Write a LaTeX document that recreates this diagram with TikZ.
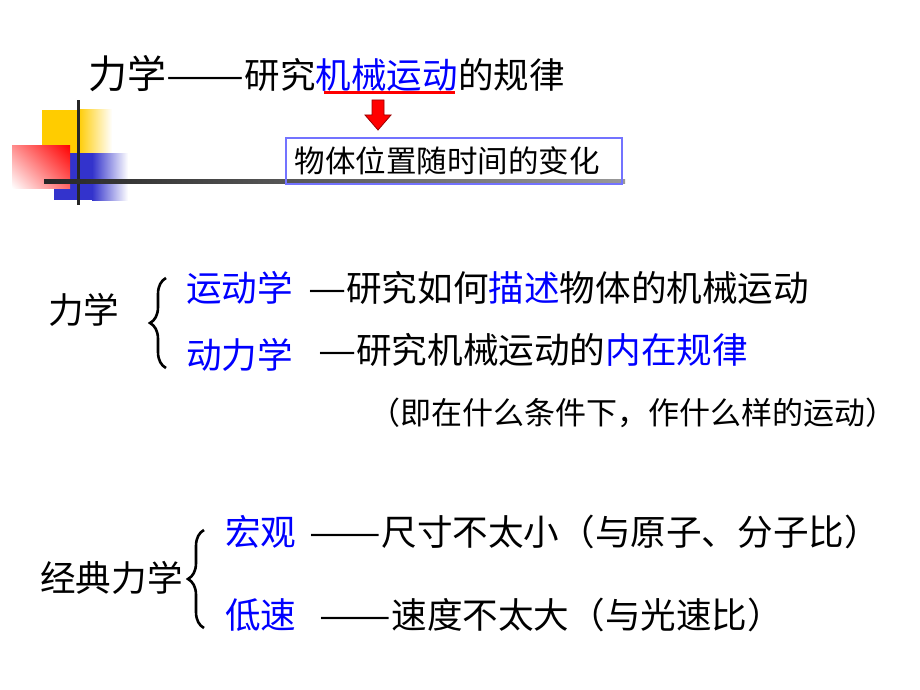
\documentclass[tikz,border=0pt]{standalone}
\usepackage{fontspec}
\newfontfamily\cjk{Noto Sans CJK SC}
\usetikzlibrary{positioning,decorations.pathreplacing,shadings}
\definecolor{kblue}{RGB}{0,0,255}
\definecolor{boxline}{RGB}{115,115,255}
\definecolor{sqyellow}{RGB}{255,204,0}
\definecolor{sqblue}{RGB}{51,51,204}
\newcommand\longdash[2][1.2]{\scalebox{#1}[1]{#2}}

\begin{document}
\begin{tikzpicture}[x=1pt,y=-1pt,
    txt/.style={inner sep=0pt, font=\cjk\fontsize{35.6}{40}\selectfont},
    key/.style={txt, text=kblue},
    ttl/.style={inner sep=0pt, font=\cjk\fontsize{35.5}{40}\selectfont},
    brc/.style={decorate, decoration={brace, amplitude=16pt}, line width=2.6pt}]
    \useasboundingbox (0,0) rectangle (920,690);

    % corner squares
    \fill[sqyellow] (42,110) rectangle (78,153);
    \shade[left color=sqyellow, right color=white] (78,110) rectangle (112,153);
    \fill[sqblue] (54,153) rectangle (92,200);
    \shade[left color=sqblue, right color=white] (92,153) rectangle (128,200);
    \shade[upper right=red, upper left=red!45, lower right=red!60, lower left=white] (12,145) rectangle (70,188);
    \fill[black!85] (76.5,100) rectangle (79.5,205);
    \shade[left color=black!85, right color=black!40] (44,179) rectangle (625,183);

    % title
    \node[ttl, anchor=west, font=\cjk\fontsize{39}{42}\selectfont] (t1) at (88,74) {力学};
    \node[ttl, anchor=base west] (t2) at (t1.base east) {\longdash[1.31]{——}研究};
    \node[ttl, anchor=base west, text=kblue] (t3) at (t2.base east) {机械运动};
    \node[ttl, anchor=base west] (t4) at (t3.base east) {的规律};
    \draw[red, line width=3pt] ([xshift=8pt]t3.south west) -- ([xshift=-3pt]t3.south east);
    \filldraw[fill=red, draw=red!60!black, line width=0.8pt]
        (372,100) -- (384,100) -- (384,115) -- (391,115) -- (378,130) -- (365,115) -- (372,115) -- cycle;
    \node[draw=boxline, line width=1.6pt, anchor=west, inner xsep=9pt, text width=318pt,
          minimum height=46pt, align=left, font=\cjk\fontsize{30.5}{34}\selectfont] (change) at (285,161) {物体位置随时间的变化};

    % kinematics / dynamics
    \node[txt, anchor=west] (m) at (48,310) {力学};
    \draw[brc] (166,368) -- (166,278);
    \node[key, anchor=west] (kin) at (186,288) {运动学};
    \node[txt, anchor=west] (kindesc) at (308,288) {\longdash{—}研究如何{\color{kblue}描述}物体的机械运动};
    \node[key, anchor=west] (dyn) at (186,355) {动力学};
    \node[txt, anchor=west] (dyndesc) at (318,350) {\longdash{—}研究机械运动的{\color{kblue}内在规律}};
    \node[txt, anchor=west, font=\cjk\fontsize{31}{34}\selectfont] (cond) at (369,413) {（即在什么条件下，作什么样的运动）};

    % classical mechanics
    \node[txt, anchor=west] (cm) at (40,578) {经典力学};
    \draw[brc] (204,628) -- (204,530);
    \node[key, anchor=west] (macro) at (225,532) {宏观};
    \node[txt, anchor=base west] (macrodesc) at ([xshift=13pt]macro.base east) {\longdash{——}尺寸不太小（与原子、分子比）};
    \node[key, anchor=west] (low) at (225,615) {低速};
    \node[txt, anchor=base west] (lowdesc) at ([xshift=23pt]low.base east) {\longdash{——}速度不太大（与光速比）};
\end{tikzpicture}
\end{document}
